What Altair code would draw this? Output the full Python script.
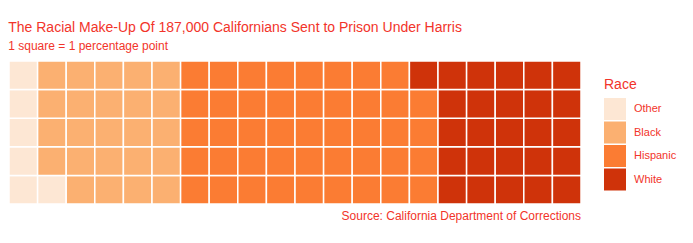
import altair as alt
import pandas as pd

races = ["Other", "Black", "Hispanic", "White"]
squares = [6, 24, 44, 26]
colors = ["#fde7d4", "#fbb071", "#fb7c33", "#cf330a"]
n_rows = 5

title_text = "The Racial Make-Up Of 187,000 Californians Sent to Prison Under Harris"
subtitle_text = "1 square = 1 percentage point"
caption_text = "Source: California Department of Corrections"

rows = []
idx = 0
for race, n in zip(races, squares):
    for _ in range(n):
        rows.append({"col": idx // n_rows, "row": idx % n_rows, "Race": race})
        idx += 1
df = pd.DataFrame(rows)

RED = "#f2342a"
FONT = "Liberation Sans"

tiles = alt.Chart(df).mark_rect(stroke="white", strokeWidth=1.5).encode(
    x=alt.X("col:O", axis=None, scale=alt.Scale(paddingInner=0, paddingOuter=0)),
    y=alt.Y("row:O", axis=None, sort="descending", scale=alt.Scale(paddingInner=0, paddingOuter=0)),
    color=alt.Color(
        "Race:N",
        scale=alt.Scale(domain=races, range=colors),
        legend=alt.Legend(
            title="Race",
            titleColor=RED,
            titleFont=FONT,
            titleFontSize=14,
            titleFontWeight="normal",
            titlePadding=6,
            labelColor=RED,
            labelFont=FONT,
            labelFontSize=11,
            labelOffset=8,
            symbolType="square",
            symbolSize=484,
            symbolStrokeWidth=0,
            rowPadding=1.5,
            orient="none",
            legendX=595,
            legendY=17,
        ),
    ),
)

caption = alt.Chart(pd.DataFrame({"t": [caption_text]})).mark_text(
    align="right", baseline="top", color=RED, font=FONT, fontSize=12
).encode(x=alt.value(572), y=alt.value(150), text="t:N")

chart = alt.layer(tiles, caption).properties(
    width=572,
    height=143,
    padding={"left": 8, "top": 21, "right": 5, "bottom": 5},
    title=alt.TitleParams(
        text=title_text,
        subtitle=subtitle_text,
        anchor="start",
        color=RED,
        subtitleColor=RED,
        font=FONT,
        subtitleFont=FONT,
        fontSize=14,
        subtitleFontSize=12,
        fontWeight="normal",
        subtitlePadding=6,
        offset=8,
    ),
).configure_view(stroke=None)

chart.save("out.html", embed_options={"renderer": "svg", "actions": False})
